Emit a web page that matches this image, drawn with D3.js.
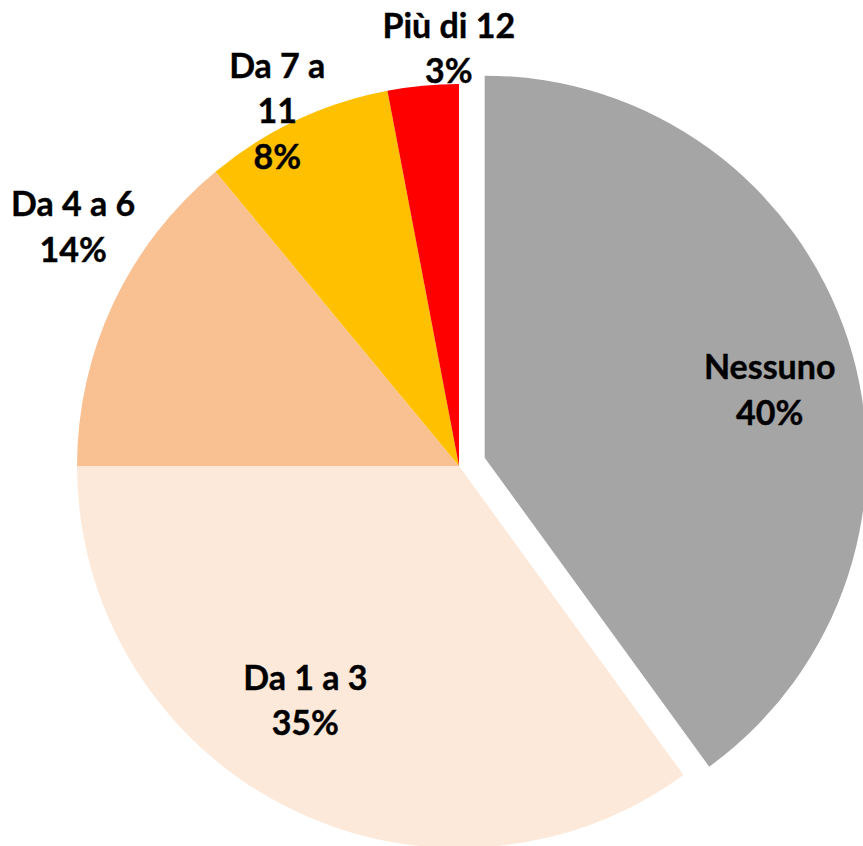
<!DOCTYPE html>
<html>
<head>
<meta charset="utf-8">
<script src="https://cdn.jsdelivr.net/npm/d3@7"></script>
<style>
  html, body { margin: 0; padding: 0; background: #fff; }
  svg { display: block; }
  .lbl { font-family: Lato, "Open Sans", sans-serif; font-weight: 700; fill: #000; }
</style>
</head>
<body>
<svg id="chart" width="863" height="846"></svg>
<script>
/* ── Data ───────────────────────────────────────────────────────── */
const categories = ['Nessuno', 'Da 1 a 3', 'Da 4 a 6', 'Da 7 a 11', 'Più di 12'];
const values     = [40, 35, 14, 8, 3];
const labelLines = [['Nessuno'], ['Da 1 a 3'], ['Da 4 a 6'], ['Da 7 a', '11'], ['Più di 12']];
const colors     = ['#a5a5a5', '#fde9d9', '#f9c092', '#ffc000', '#ff0000'];

/* ── Layout ─────────────────────────────────────────────────────── */
const CX = 459, CY = 466, R = 382;
const EXPLODE = [27, 0, 0, 0, 0];          // px pulled out along mid angle
const LBL_R   = [293, 280, 454, 399, 418];  // label distance from slice centre
const LBL_DA  = [4.6, 6.3, 6.6, -1.9, 4.0]; // label angle nudge (deg)
const FONT_PX = 34;
const LINE_H  = 45.5;

const svg = d3.select('#chart');
const g = svg.append('g').attr('transform', `translate(${CX},${CY})`);

const pie = d3.pie().sort(null).value(d => d);
const arcs = pie(values);
const arc = d3.arc().innerRadius(0).outerRadius(R);

const polar = (r, a) => [r * Math.sin(a), -r * Math.cos(a)];

arcs.forEach((d, i) => {
  const mid = (d.startAngle + d.endAngle) / 2;
  const [ox, oy] = polar(EXPLODE[i], mid);
  const sg = g.append('g').attr('transform', `translate(${ox},${oy})`);

  sg.append('path')
    .attr('d', arc(d))
    .attr('fill', colors[i]);

  const [lx, ly] = polar(LBL_R[i], mid + LBL_DA[i] * Math.PI / 180);
  const lines = labelLines[i].concat([d3.format('.0%')(values[i] / d3.sum(values))]);
  const y0 = ly - (lines.length - 1) * LINE_H / 2;
  const t = sg.append('text')
    .attr('class', 'lbl')
    .attr('text-anchor', 'middle')
    .attr('font-size', FONT_PX)
    .attr('stroke', '#000')
    .attr('stroke-width', 0.4);
  lines.forEach((ln, j) =>
    t.append('tspan')
      .attr('x', lx)
      .attr('y', y0 + j * LINE_H)
      .attr('dy', '0.36em')
      .text(ln)
  );
});
</script>
</body>
</html>
